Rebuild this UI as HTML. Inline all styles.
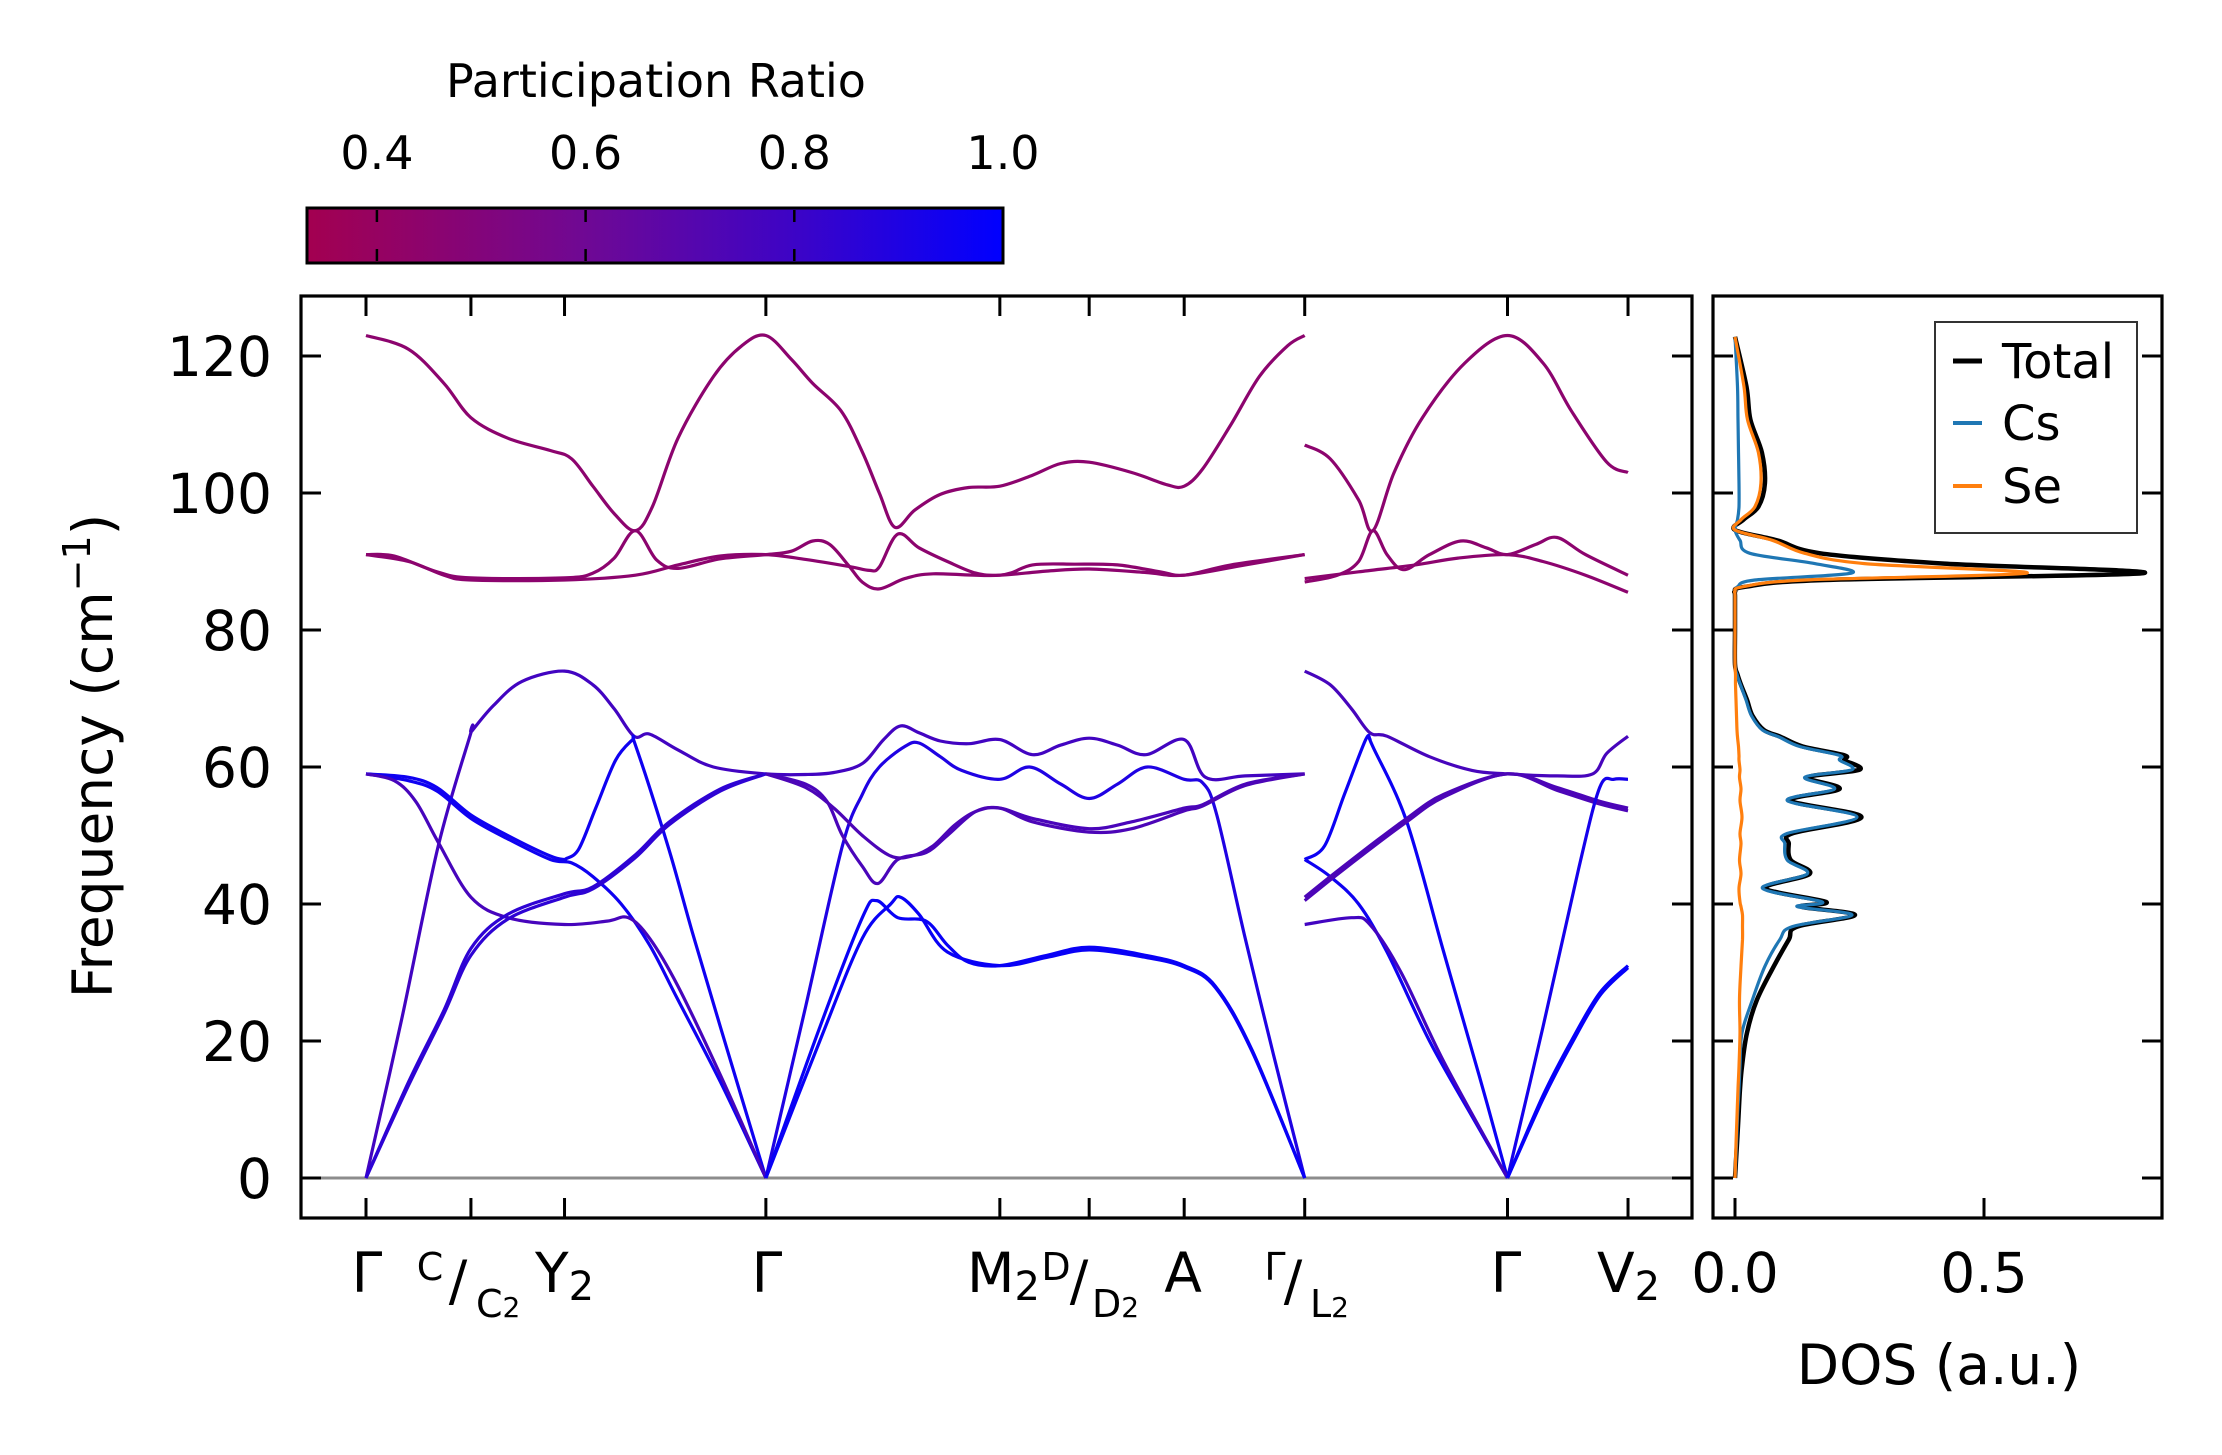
<!DOCTYPE html>
<html><head><meta charset="utf-8"><style>
html,body{margin:0;padding:0;background:#fff;}
svg{display:block;font-family:"DejaVu Sans","Liberation Sans",sans-serif;}
</style></head><body>
<svg id="chart" width="2222" height="1455" viewBox="0 0 2222 1455" xmlns="http://www.w3.org/2000/svg">
<defs>
<linearGradient id="cbgrad" x1="0" x2="1" y1="0" y2="0">
<stop offset="0" stop-color="#a30050"/><stop offset="0.4" stop-color="#6f0894"/><stop offset="0.7" stop-color="#3d04c6"/><stop offset="1" stop-color="#0000ff"/>
</linearGradient>
<clipPath id="mainClip"><rect x="301" y="296" width="1391" height="922"/></clipPath>
<clipPath id="dosClip"><rect x="1713" y="296" width="449" height="922"/></clipPath>
</defs>
<g>
<text x="656" y="97" font-size="46" text-anchor="middle">Participation Ratio</text>
<rect x="307" y="208" width="696" height="55" fill="url(#cbgrad)" stroke="#000" stroke-width="3"/>
<g id="cbTicks"></g>
</g>
<g id="mainAxes">
<line x1="301" x2="1692" y1="1178" y2="1178" stroke="#8c8c8c" stroke-width="3"/>
<g id="bands" clip-path="url(#mainClip)"></g>
<g id="mainTicks"></g>
<rect x="301" y="296" width="1391" height="922" fill="none" stroke="#000" stroke-width="3.2"/>
</g>
<g id="dosAxes">
<g id="dosLines" clip-path="url(#dosClip)"></g>
<g id="dosTicks"></g>
<rect x="1713" y="296" width="449" height="922" fill="none" stroke="#000" stroke-width="3.2"/>
<g>
<rect x="1935" y="322" width="202" height="211" fill="#fff" stroke="#333" stroke-width="2"/>
<line x1="1953" x2="1982" y1="361" y2="361" stroke="#000" stroke-width="5"/>
<text x="2002" y="378" font-size="48">Total</text>
<line x1="1953" x2="1982" y1="423" y2="423" stroke="#1f77b4" stroke-width="4"/>
<text x="2002" y="440" font-size="48">Cs</text>
<line x1="1953" x2="1982" y1="486" y2="486" stroke="#ff7f0e" stroke-width="4"/>
<text x="2002" y="503" font-size="48">Se</text>
</g>
</g>
<text transform="translate(112,756) rotate(-90)" font-size="55" text-anchor="middle">Frequency (cm<tspan font-size="38" dy="-22">−1</tspan><tspan dy="22">)</tspan></text>
<text x="1939" y="1384" font-size="55" text-anchor="middle">DOS (a.u.)</text>
<g font-size="55">
<text x="367" y="1292" text-anchor="middle">Γ</text>
<text x="430" y="1280" font-size="38" text-anchor="middle">C</text>
<text x="458" y="1300" text-anchor="middle">/</text>
<text x="476" y="1317" font-size="38">C<tspan font-size="28">2</tspan></text>
<text x="535" y="1292">Y<tspan font-size="40" dy="8">2</tspan></text>
<text x="767" y="1292" text-anchor="middle">Γ</text>
<text x="967" y="1292">M<tspan font-size="40" dy="8">2</tspan></text>
<text x="1056" y="1280" font-size="38" text-anchor="middle">D</text>
<text x="1079" y="1300" text-anchor="middle">/</text>
<text x="1092" y="1317" font-size="38">D<tspan font-size="28">2</tspan></text>
<text x="1183" y="1292" text-anchor="middle">A</text>
<text x="1275" y="1280" font-size="38" text-anchor="middle">Γ</text>
<text x="1293" y="1300" text-anchor="middle">/</text>
<text x="1310" y="1317" font-size="38">L<tspan font-size="28">2</tspan></text>
<text x="1506" y="1292" text-anchor="middle">Γ</text>
<text x="1597" y="1292">V<tspan font-size="40" dy="8">2</tspan></text>
</g>
</svg>
<script>
// ---- data ----
const kTicks = [0,0.74,1.40,2.82,4.47,5.10,5.77,6.62,8.05,8.90];
const yTicks = [0,20,40,60,80,100,120];
const cbTicks = [0.4,0.6,0.8,1.0];
const cbMin = 0.333, cbMax = 1.0;
const dosXTicks = [0.0,0.5];
const dosXTickLabels = ["0.0","0.5"];

// bands: [k, frequency]
const upperA = [[0,123],[0.3,121],[0.55,116],[0.74,111],[1.0,108],[1.3,106.2],[1.45,105],[1.6,101],[1.75,97],[1.90,94.5],[2.02,98],[2.2,108],[2.45,117],[2.65,121.5],[2.82,123],[3.0,119.5],[3.15,116],[3.35,112],[3.5,106],[3.62,100],[3.73,95],[3.87,97.5],[4.05,99.8],[4.25,100.8],[4.47,101],[4.7,102.6],[4.9,104.3],[5.1,104.5],[5.4,103],[5.65,101.2],[5.77,101],[5.9,103.5],[6.1,110],[6.3,117],[6.5,121.5],[6.62,123]];
const upperB = [[0,91],[0.2,90.8],[0.5,88.5],[0.74,87.6],[1.4,87.6],[1.6,88.3],[1.75,90.5],[1.90,94.5],[2.05,90.2],[2.2,89],[2.5,90.4],[2.82,91],[3.0,91.5],[3.15,93],[3.27,92.5],[3.4,89.5],[3.5,87],[3.62,86],[3.8,87.5],[4.0,88.2],[4.47,88],[4.7,89.5],[5.0,89.6],[5.3,89.5],[5.6,88.5],[5.77,88],[6.1,89.5],[6.62,91]];
const upperC = [[0,91],[0.3,90],[0.55,88],[0.74,87.3],[1.4,87.3],[1.9,88],[2.2,89.5],[2.5,90.8],[2.82,91],[3.1,90.3],[3.4,89.3],[3.55,88.7],[3.62,89.2],[3.75,94],[3.9,92],[4.1,90],[4.3,88.3],[4.47,88],[4.8,88.6],[5.1,88.9],[5.5,88.4],[5.77,88],[6.2,89.5],[6.62,91]];
const upperD = [[6.62,107],[6.8,105],[7.0,99],[7.10,94.5],[7.25,103],[7.45,111],[7.75,119],[8.05,123],[8.3,119],[8.5,112],[8.75,104.5],[8.90,103]];
const upperE = [[6.62,87],[6.85,88],[7.0,90],[7.10,94.5],[7.2,91],[7.32,88.8],[7.5,91],[7.72,93],[7.9,92],[8.05,91],[8.25,92.5],[8.4,93.5],[8.6,91],[8.90,88]];
const upperF = [[6.62,87.5],[7.0,88.5],[7.4,89.5],[7.7,90.5],[8.05,91],[8.3,90],[8.6,88],[8.90,85.5]];

const midA = [[0,0],[0.25,23],[0.51,48.5],[0.74,65],[0.745,65.2],[0.9,69],[1.1,72.5],[1.4,74],[1.6,72],[1.75,68.5],[1.89,64.5],[2.0,64.8],[2.2,62.5],[2.45,60],[2.82,59],[3.1,58.9],[3.3,59.2],[3.5,60.5],[3.65,64],[3.77,66],[3.9,65],[4.05,63.8],[4.25,63.4],[4.47,64],[4.7,61.8],[4.9,63.2],[5.1,64.2],[5.3,63.2],[5.5,61.8],[5.77,64],[5.92,58.5],[6.2,58.7],[6.62,59]];
const midB = [[0,59],[0.3,58.5],[0.5,57],[0.74,53],[1.0,50],[1.3,47],[1.4,46.5],[1.41,46.6],[1.5,48],[1.62,54],[1.76,61],[1.88,64],[1.89,63.8],[2.0,57],[2.15,47],[2.3,36],[2.5,22],[2.82,0]];
const midC = [[0,59],[0.3,58],[0.5,56.5],[0.74,52.5],[1.0,49.5],[1.3,46.5],[1.45,46],[1.6,44],[1.8,40],[2.0,34],[2.2,26],[2.5,14],[2.82,0]];
const midD = [[0,59],[0.2,58],[0.35,55],[0.51,49],[0.74,41],[1.0,38],[1.4,37],[1.7,37.5],[1.85,38],[2.0,35],[2.2,28],[2.5,15],[2.82,0]];
const acoA = [[0,0],[0.3,14],[0.55,24.5],[0.74,33.5],[1.0,38.5],[1.4,41.5],[1.6,42.5],[1.89,47],[2.14,52],[2.5,56.8],[2.82,59]];
const acoB = [[0,0],[0.3,13.5],[0.55,24],[0.74,32.5],[1.0,37.8],[1.4,41],[1.6,42.2],[1.89,46.6],[2.14,51.6],[2.5,56.5],[2.82,59]];
const midE = [[2.82,0],[3.1,25],[3.36,48.5],[3.5,56],[3.62,60],[3.8,63],[3.9,63.5],[4.05,61.5],[4.2,59.5],[4.47,58.2],[4.68,60],[4.9,57.5],[5.1,55.4],[5.3,57.5],[5.51,60],[5.77,58.2],[5.9,57.7],[6.0,53],[6.2,35],[6.4,18],[6.62,0]];
const midF = [[2.82,59],[3.1,57.5],[3.25,55],[3.36,50],[3.5,45.5],[3.61,43],[3.75,46.5],[3.95,47.5],[4.1,50],[4.3,53.5],[4.47,54],[4.7,52.5],[5.1,51],[5.4,52],[5.77,54],[5.9,54.5],[6.2,57.5],[6.62,59]];
const midG = [[2.82,59],[3.1,57],[3.3,54],[3.5,50],[3.7,47],[3.85,47],[4.0,48.5],[4.15,51.5],[4.3,53.5],[4.47,54],[4.7,52],[5.1,50.5],[5.4,51],[5.77,53.6],[5.9,54.3],[6.2,57.3],[6.62,59]];
const acoC = [[2.82,0],[3.2,22],[3.5,38],[3.6,40.5],[3.75,38],[3.95,37.5],[4.1,34],[4.25,31.5],[4.47,31],[4.8,32.5],[5.1,33.7],[5.5,32.5],[5.77,31],[5.99,28],[6.25,18.6],[6.62,0]];
const acoD = [[2.82,0],[3.2,20],[3.5,35],[3.7,40],[3.77,41],[3.9,38.5],[4.1,33],[4.47,31],[4.8,32.2],[5.1,33.3],[5.5,32.2],[5.77,30.8],[5.99,27.8],[6.25,18.4],[6.62,0]];
const midH = [[6.62,74],[6.8,72],[6.95,68.5],[7.08,65],[7.2,64.5],[7.5,61.5],[7.8,59.5],[8.05,59],[8.4,58.7],[8.65,59],[8.75,62],[8.90,64.5]];
const midI = [[6.62,46.5],[6.76,48.5],[6.9,56],[7.05,64],[7.08,64],[7.1,63],[7.34,52],[7.6,33],[7.85,15],[8.05,0]];
const midJ = [[6.62,46.5],[6.8,44],[7.0,40],[7.2,33],[7.5,20],[7.8,9],[8.05,0]];
const midK = [[6.62,37],[6.95,38],[7.08,37],[7.3,30],[7.6,17],[8.05,0]];
const midL = [[6.62,41],[6.8,44],[7.08,48.5],[7.34,52.5],[7.6,56],[8.05,59],[8.4,57],[8.7,55],[8.90,54]];
const midM = [[6.62,40.5],[6.8,43.5],[7.08,48],[7.34,52],[7.6,55.6],[8.05,59],[8.4,56.6],[8.7,54.6],[8.90,53.6]];
const midN = [[8.05,0],[8.3,22],[8.55,45],[8.7,57],[8.8,58.2],[8.90,58.2]];
const acoE = [[8.05,0],[8.3,12],[8.5,20],[8.7,27],[8.90,31]];
const acoF = [[8.05,0],[8.3,11.5],[8.5,19.5],[8.7,26.6],[8.90,30.7]];

const bandList = [upperA,upperB,upperC,upperD,upperE,upperF,midA,midB,midC,midD,acoA,acoB,midE,midF,midG,acoC,acoD,midH,midI,midJ,midK,midL,midM,midN,acoE,acoF];
const bandPR = [0.45,0.45,0.45,0.45,0.45,0.45,0.78,0.95,0.95,0.76,0.85,0.85,0.9,0.75,0.74,0.97,0.97,0.76,0.96,0.95,0.78,0.74,0.74,0.93,0.98,0.98];

// DOS
const dosFreq = [0,5,9,13,16.3,21.2,26,30.9,34.8,36.7,38.4,39.6,40.3,42.3,44.4,46.4,48.8,50.3,52.7,55.1,56.8,58.5,59.6,61,61.7,63,64.4,65.4,67.5,69.8,72,73.5,75,80,85,85.6,86.3,87.3,88.3,89.7,91.2,93.1,94.6,96.1,98,101.4,105.9,110.7,115.5,122.8];
const dosTotal = [0,0.004,0.007,0.01,0.014,0.024,0.044,0.078,0.108,0.125,0.241,0.133,0.183,0.061,0.15,0.112,0.108,0.115,0.254,0.112,0.21,0.146,0.25,0.22,0.22,0.136,0.092,0.058,0.035,0.024,0.012,0.005,0,0,0,0,0.02,0.18,0.82,0.42,0.171,0.084,0,0.017,0.047,0.06,0.054,0.031,0.023,0];
const dosCs = [0,0.003,0.005,0.008,0.01,0.014,0.035,0.06,0.09,0.115,0.235,0.125,0.175,0.055,0.145,0.105,0.1,0.105,0.245,0.105,0.2,0.14,0.235,0.21,0.21,0.13,0.088,0.055,0.033,0.022,0.011,0.004,0,0,0,0,0.005,0.04,0.234,0.16,0.03,0.01,0,0.005,0.008,0.008,0.007,0.006,0.005,0];
const dosSe = [0,0.002,0.004,0.006,0.008,0.01,0.009,0.012,0.015,0.015,0.015,0.012,0.01,0.008,0.012,0.009,0.012,0.01,0.014,0.01,0.012,0.009,0.01,0.008,0.008,0.007,0.005,0.004,0.003,0.002,0.001,0.001,0,0,0,0,0.015,0.14,0.586,0.26,0.14,0.075,0,0.012,0.04,0.052,0.047,0.025,0.018,0];

// ---- scales ----
const NS = "http://www.w3.org/2000/svg";
function xK(k){ return 366 + k*141.8; }
function yF(f){ return 1178 - f*6.85; }
function xD(v){ return 1735 + v*498; }
function xCb(p){ return 307 + (p-cbMin)/(cbMax-cbMin)*696; }
const cmStops = [[0.333,[163,0,80]],[0.6,[111,8,148]],[0.8,[61,4,198]],[1.0,[0,0,255]]];
function cmap(p){
  for(let i=0;i<cmStops.length-1;i++){
    const a=cmStops[i], b=cmStops[i+1];
    if(p<=b[0]||i===cmStops.length-2){
      const t=Math.max(0,Math.min(1,(p-a[0])/(b[0]-a[0])));
      const c=a[1].map((v,j)=>Math.round(v+(b[1][j]-v)*t));
      return "rgb("+c.join(",")+")";
    }
  }
}
function smoothPath(pts){
  let d="M"+pts[0][0].toFixed(1)+","+pts[0][1].toFixed(1);
  for(let i=0;i<pts.length-1;i++){
    const p0=pts[i>0?i-1:i], p1=pts[i], p2=pts[i+1], p3=pts[i+2<pts.length?i+2:i+1];
    const c1x=p1[0]+(p2[0]-p0[0])/6, c1y=p1[1]+(p2[1]-p0[1])/6;
    const c2x=p2[0]-(p3[0]-p1[0])/6, c2y=p2[1]-(p3[1]-p1[1])/6;
    d+=" C"+c1x.toFixed(1)+","+c1y.toFixed(1)+" "+c2x.toFixed(1)+","+c2y.toFixed(1)+" "+p2[0].toFixed(1)+","+p2[1].toFixed(1);
  }
  return d;
}
function mk(tag, parent){ const e=document.createElementNS(NS,tag); parent.appendChild(e); return e; }

// bands
const gB=document.getElementById("bands");
bandList.forEach((b,i)=>{
  const p=mk("path",gB);
  
  
  p.setAttribute("d", smoothPath(b.map(q=>[xK(q[0]),yF(q[1])])));
  p.setAttribute("fill","none");
  p.setAttribute("stroke",cmap(bandPR[i]));
  p.setAttribute("stroke-width","3.2");
});

// main ticks
const gT=document.getElementById("mainTicks");
kTicks.forEach(k=>{
  [[1218,1198],[296,316]].forEach(yy=>{
    const l=mk("line",gT);
    
    
    l.setAttribute("x1",xK(k));l.setAttribute("x2",xK(k));
    l.setAttribute("y1",yy[0]);l.setAttribute("y2",yy[1]);
    l.setAttribute("stroke","#000");l.setAttribute("stroke-width","3");
  });
});
yTicks.forEach(f=>{
  [[301,321],[1692,1672]].forEach(xx=>{
    const l=mk("line",gT);
    
    
    l.setAttribute("x1",xx[0]);l.setAttribute("x2",xx[1]);
    l.setAttribute("y1",yF(f));l.setAttribute("y2",yF(f));
    l.setAttribute("stroke","#000");l.setAttribute("stroke-width","3");
  });
  const t=mk("text",gT);
  
  
  t.setAttribute("x",272);t.setAttribute("y",yF(f)+20);
  t.setAttribute("font-size","55");t.setAttribute("text-anchor","end");
  t.textContent=String(f);
});

// colorbar ticks
const gC=document.getElementById("cbTicks");
cbTicks.forEach(p=>{
  if(p<1.0){
    [[210,222],[261,249]].forEach(yy=>{
      const l=mk("line",gC);
      
      
      l.setAttribute("x1",xCb(p));l.setAttribute("x2",xCb(p));
      l.setAttribute("y1",yy[0]);l.setAttribute("y2",yy[1]);
      l.setAttribute("stroke","#000");l.setAttribute("stroke-width","2.5");
    });
  }
  const t=mk("text",gC);
  
  
  t.setAttribute("x",xCb(p));t.setAttribute("y",169);
  t.setAttribute("font-size","46");t.setAttribute("text-anchor","middle");
  t.textContent=p.toFixed(1);
});

// DOS
const gD=document.getElementById("dosLines");
[[dosTotal,"#000","4.5","dos-total-line"],[dosCs,"#1f77b4","3.2","dos-cs-line"],[dosSe,"#ff7f0e","3.2","dos-se-line"]].forEach(s=>{
  const p=mk("path",gD);
  
  
  p.setAttribute("d", smoothPath(dosFreq.map((f,i)=>[xD(s[0][i]),yF(f)])));
  p.setAttribute("fill","none");p.setAttribute("stroke",s[1]);p.setAttribute("stroke-width",s[2]);
  p.setAttribute("stroke-linejoin","round");
});
const gDT=document.getElementById("dosTicks");
yTicks.forEach(f=>{
  [[1713,1733],[2162,2142]].forEach(xx=>{
    const l=mk("line",gDT);
    
    
    l.setAttribute("x1",xx[0]);l.setAttribute("x2",xx[1]);
    l.setAttribute("y1",yF(f));l.setAttribute("y2",yF(f));
    l.setAttribute("stroke","#000");l.setAttribute("stroke-width","3");
  });
});
dosXTicks.forEach((v,i)=>{
  const l=mk("line",gDT);
  
  
  l.setAttribute("x1",xD(v));l.setAttribute("x2",xD(v));
  l.setAttribute("y1",1218);l.setAttribute("y2",1198);
  l.setAttribute("stroke","#000");l.setAttribute("stroke-width","3");
  const t=mk("text",gDT);
  
  
  t.setAttribute("x",xD(v));t.setAttribute("y",1292);
  t.setAttribute("font-size","55");t.setAttribute("text-anchor","middle");
  t.textContent=dosXTickLabels[i];
});
</script>
</body></html>
